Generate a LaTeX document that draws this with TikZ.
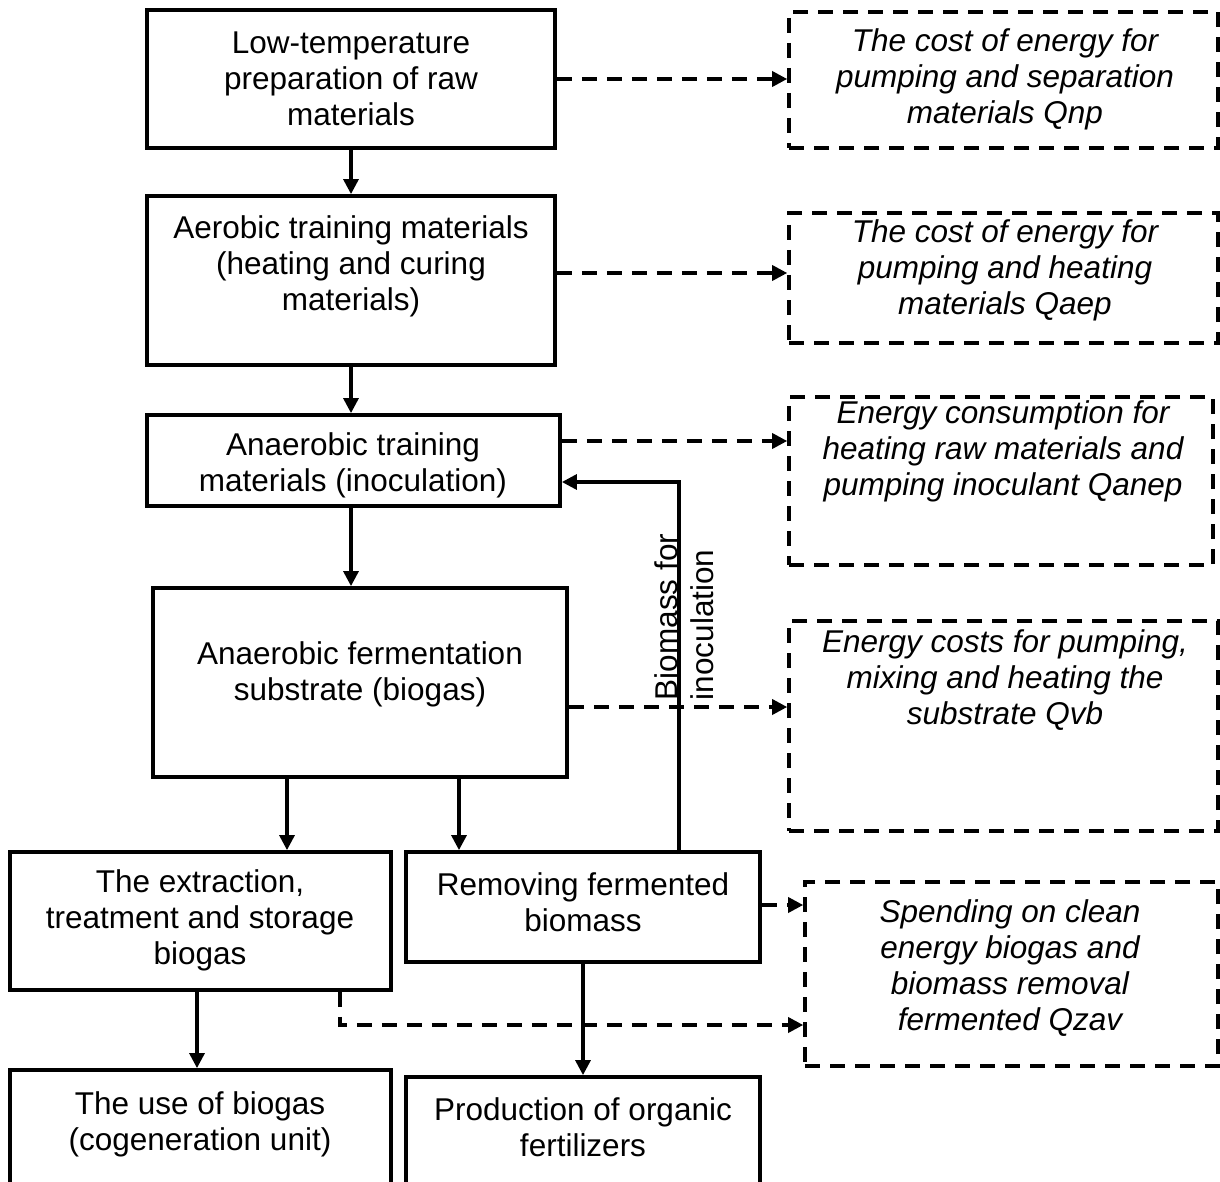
\documentclass[tikz,border=0pt]{standalone}
\usepackage{fontspec}
\setmainfont{Liberation Sans}
\usetikzlibrary{arrows.meta}
\begin{document}
\begin{tikzpicture}[x=1pt,y=-1pt,
  box/.style={draw, line width=3.8pt, inner sep=0pt},
  cbox/.style={draw, line width=3.6pt, inner sep=0pt, dash pattern=on 15pt off 10pt},
  txt/.style={align=center, inner sep=0pt, font=\fontsize{31.5}{36}\selectfont},
  itxt/.style={txt, font=\fontsize{31.5}{36}\selectfont\itshape},
  arr/.style={line width=3.2pt, -{Triangle[length=15pt,width=15pt]}},
  darr/.style={line width=3.4pt, dash pattern=on 15pt off 10pt, -{Triangle[length=15pt,width=15pt]}}]
\useasboundingbox (0,0) rectangle (1220,1182);
\clip (0,0) rectangle (1220,1182);
% main boxes
\node[box, minimum width=408pt, minimum height=138pt] (A) at (351,79) {};
\node[box, minimum width=408pt, minimum height=169pt] (B) at (351,280.5) {};
\node[box, minimum width=413pt, minimum height=91pt] (C) at (353.5,460.5) {};
\node[box, minimum width=414pt, minimum height=189pt] (D) at (360,682.5) {};
\node[box, minimum width=381pt, minimum height=138pt] (E) at (200.5,921) {};
\node[box, minimum width=354pt, minimum height=110pt] (F) at (583,907) {};
\node[box, minimum width=381pt, minimum height=160pt] (G) at (200.5,1150) {};
\node[box, minimum width=354pt, minimum height=153pt] (H) at (583,1153.5) {};
% cost boxes
\node[cbox, minimum width=429pt, minimum height=136pt] (P1) at (1003.5,80) {};
\node[cbox, minimum width=429pt, minimum height=130pt] (P2) at (1003.5,278) {};
\node[cbox, minimum width=424pt, minimum height=168pt] (P3) at (1001,481) {};
\node[cbox, minimum width=429pt, minimum height=210pt] (P4) at (1003.5,726) {};
\node[cbox, minimum width=413pt, minimum height=184pt] (P5) at (1011.5,974) {};
% texts
\node[txt] (tA) at (351,79) {Low-temperature\\preparation of raw\\materials};
\node[txt] (tB) at (351,266) {Aerobic training materials\\(heating and curing\\materials)};
\node[txt] (tC) at (353,465) {Anaerobic training\\materials (inoculation)};
\node[txt] (tD) at (360,674) {Anaerobic fermentation\\substrate (biogas)};
\node[txt] (tE) at (200,920) {The extraction,\\treatment and storage\\biogas};
\node[txt] (tF) at (583,902) {Removing fermented\\biomass};
\node[txt] (tG) at (200,1124) {The use of biogas\\(cogeneration unit)};
\node[txt] (tH) at (583,1127) {Production of organic\\fertilizers};
\node[itxt] (tP1) at (1005,79) {The cost of energy for\\pumping and separation\\materials Qnp};
\node[itxt] (tP2) at (1005,270) {The cost of energy for\\pumping and heating\\materials Qaep};
\node[itxt] (tP3) at (1003,451) {Energy consumption for\\heating raw materials and\\pumping inoculant Qanep};
\node[itxt] (tP4) at (1005,680) {Energy costs for pumping,\\mixing and heating the\\substrate Qvb};
\node[itxt] (tP5) at (1010,968) {Spending on clean\\energy biogas and\\biomass removal\\fermented Qzav};
% helper coordinates
\coordinate (xDE) at (287,0);
\coordinate (xDF) at (459,0);
\coordinate (xEG) at (197,0);
\coordinate (xfb) at (679,0);
\coordinate (yfb) at (0,482);
\coordinate (xEP) at (340,0);
\coordinate (yEP) at (0,1025);
% solid connectors
\draw[arr] (A.south) -- (B.north);
\draw[arr] (B.south) -- (B.south |- C.north);
\draw[arr] (B.south |- C.south) -- (B.south |- D.north);
\draw[arr] (xDE |- D.south) -- (xDE |- E.north);
\draw[arr] (xDF |- D.south) -- (xDF |- F.north);
\draw[arr] (xEG |- E.south) -- (xEG |- G.north);
\draw[arr] (F.south) -- (F.south |- H.north);
\draw[arr] ([yshift=-4pt]xfb |- F.north) -- (xfb |- yfb) -- (C.east |- yfb);
\node[txt, rotate=90, align=left] (lab) at (684,617) {Biomass for\\inoculation};
% dashed connectors
\draw[darr] (A.east) -- (A.east -| P1.west);
\draw[darr] (B.east |- 0,273) -- (P2.west |- 0,273);
\draw[darr] (C.east |- 0,441) -- (P3.west |- 0,441);
\draw[darr] (D.east |- 0,707) -- (P4.west |- 0,707);
\draw[darr] (F.east |- 0,905) -- (P5.west |- 0,905);
\draw[darr] (xEP |- E.south) -- (xEP |- yEP) -- (P5.west |- yEP);
\end{tikzpicture}
\end{document}
